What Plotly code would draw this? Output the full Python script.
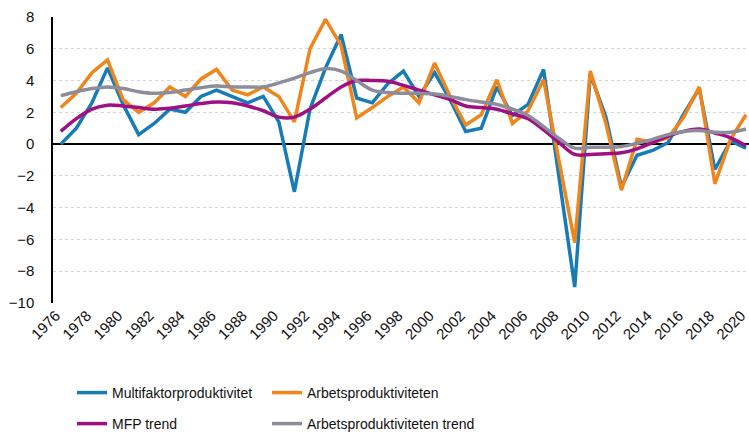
import plotly.graph_objects as go

years = list(range(1976, 2021))

mfp = [0.0, 1.0, 2.6, 4.8, 2.5, 0.6, 1.3, 2.2, 2.0, 3.0,
       3.4, 3.0, 2.6, 3.0, 1.4, -3.0, 2.2, 4.8, 6.9, 2.9,
       2.6, 3.8, 4.6, 3.0, 4.5, 2.8, 0.8, 1.0, 3.6, 1.8,
       2.5, 4.7, -2.1, -9.0, 4.4, 1.7, -2.7, -0.7, -0.4, 0.1,
       1.9, 3.5, -1.6, 0.2, -0.25]

arb = [2.3, 3.2, 4.5, 5.3, 2.8, 2.0, 2.6, 3.6, 3.0, 4.1,
       4.7, 3.4, 3.1, 3.6, 3.0, 1.4, 6.0, 7.85, 6.2, 1.65,
       2.3, 3.0, 3.6, 2.6, 5.1, 3.0, 1.2, 1.85, 4.05, 1.3,
       2.1, 4.05, -1.1, -6.2, 4.6, 1.3, -2.9, 0.3, 0.1, 0.4,
       1.7, 3.6, -2.5, 0.3, 1.85]

mfp_trend = [0.8, 1.6, 2.2, 2.45, 2.4, 2.3, 2.2, 2.25, 2.4, 2.55,
             2.65, 2.6, 2.4, 2.1, 1.7, 1.7, 2.2, 2.9, 3.6, 4.0,
             4.0, 3.95, 3.7, 3.4, 3.1, 2.8, 2.4, 2.3, 2.2, 1.9,
             1.6, 0.9, 0.1, -0.65, -0.65, -0.6, -0.55, -0.3, 0.1, 0.5,
             0.8, 0.95, 0.7, 0.4, -0.1]

arb_trend = [3.05, 3.3, 3.5, 3.6, 3.5, 3.3, 3.2, 3.25, 3.4, 3.55,
             3.65, 3.6, 3.6, 3.6, 3.85, 4.15, 4.5, 4.75, 4.6, 4.0,
             3.4, 3.25, 3.2, 3.2, 3.15, 3.0, 2.8, 2.65, 2.5, 2.2,
             1.8, 1.1, 0.35, -0.25, -0.2, -0.2, -0.15, 0.05, 0.3, 0.6,
             0.8, 0.85, 0.75, 0.75, 0.95]

tick_years = list(range(1976, 2021, 2))
y_ticks = list(range(-10, 9, 2))

names = ["Multifaktorproduktivitet", "Arbetsproduktiviteten",
         "MFP trend", "Arbetsproduktiviteten trend"]
colors = ["#177BB6", "#F0851C", "#A01082", "#8C8C9B"]

W, H = 749, 434
fig = go.Figure()
series = [mfp, arb, mfp_trend, arb_trend]
legends = ["legend", "legend2", "legend3", "legend4"]
shapes = ["linear", "linear", "spline", "spline"]
for s, n, c, lg, sh in zip(series, names, colors, legends, shapes):
    fig.add_trace(go.Scatter(x=years, y=s, name=n, mode="lines",
                             line=dict(color=c, width=3.5, shape=sh),
                             legend=lg))

font_main = "Liberation Sans, Arial, sans-serif"
txt = "#111111"

leg_common = dict(orientation="h", xref="container", yref="container",
                  xanchor="left", yanchor="middle",
                  font=dict(family=font_main, size=14, color=txt),
                  bgcolor="rgba(0,0,0,0)", itemwidth=30)

col1, col2 = 72 / W, 267 / W
row1, row2 = 1 - 393 / H, 1 - 424 / H

fig.update_layout(
    width=W, height=H,
    margin=dict(l=53, r=0, t=17, b=131),
    paper_bgcolor="white", plot_bgcolor="white",
    font=dict(family=font_main, size=15, color=txt),
    showlegend=True,
    legend=dict(x=col1, y=row1, **leg_common),
    legend2=dict(x=col2, y=row1, **leg_common),
    legend3=dict(x=col1, y=row2, **leg_common),
    legend4=dict(x=col2, y=row2, **leg_common),
)

fig.update_xaxes(range=[1975.5, 2020.19], tickmode="array",
                 tickvals=tick_years, ticktext=[str(t) for t in tick_years],
                 tickangle=-45, showgrid=False, zeroline=False,
                 showline=False, ticks="", automargin=False,
                 ticklabeloverflow="allow", ticklabelshift=-5,
                 tickfont=dict(family=font_main, size=15, color=txt))
fig.update_yaxes(range=[-10, 8], tickmode="array", tickvals=y_ticks,
                 showgrid=True, gridcolor="#D3D3D8", griddash="dot",
                 gridwidth=1, zeroline=True, zerolinecolor="#000000",
                 zerolinewidth=1.5, showline=True, linecolor="#000000",
                 linewidth=1.5, ticks="", automargin=False,
                 ticklabelstandoff=14,
                 tickfont=dict(family=font_main, size=15, color=txt))

fig.write_html("out.html",
               config={"displayModeBar": False},
               post_script="document.body.style.margin='0';document.body.style.overflow='hidden';")
